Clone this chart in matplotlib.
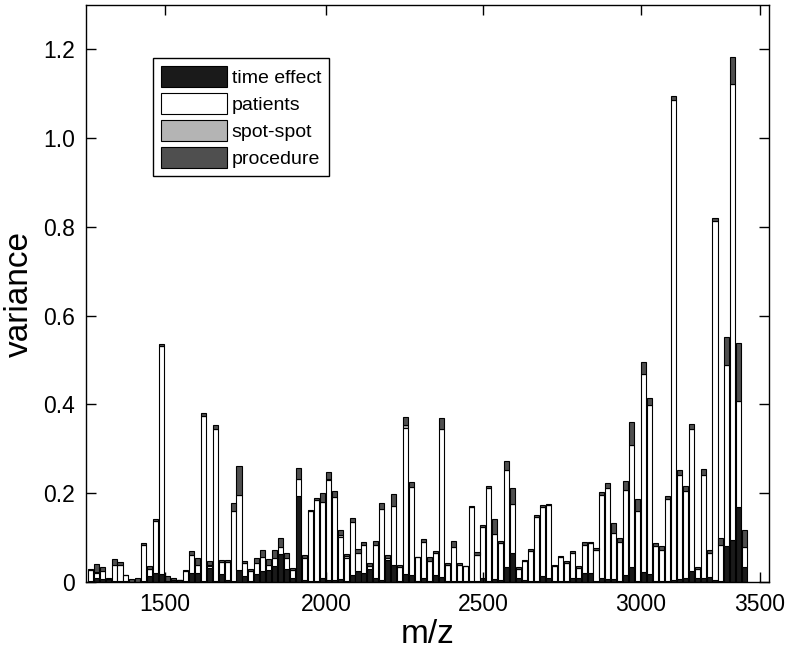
import numpy as np
import matplotlib
matplotlib.use("Agg")
import matplotlib.pyplot as plt

plt.rcParams['font.family'] = ['Liberation Sans', 'DejaVu Sans']

# stacked variance components per m/z peak (bar index order)
time_effect = [0.003, 0.008, 0.006, 0.006, 0.003, 0.003, 0.003, 0.001, 0.001, 0.003,
               0.014, 0.020, 0.018, 0.003, 0.004, 0.005, 0.003, 0.020, 0.020, 0.003,
               0.031, 0.003, 0.019, 0.004, 0.003, 0.027, 0.013, 0.003, 0.017, 0.024,
               0.027, 0.036, 0.064, 0.030, 0.009, 0.194, 0.005, 0.003, 0.003, 0.008,
               0.005, 0.005, 0.006, 0.003, 0.015, 0.024, 0.020, 0.029, 0.009, 0.005,
               0.050, 0.039, 0.003, 0.018, 0.015, 0.003, 0.010, 0.003, 0.015, 0.012,
               0.003, 0.003, 0.002, 0.002, 0.003, 0.003, 0.009, 0.003, 0.007, 0.004,
               0.033, 0.065, 0.008, 0.004, 0.003, 0.003, 0.014, 0.008, 0.002, 0.003,
               0.003, 0.008, 0.009, 0.021, 0.020, 0.003, 0.009, 0.006, 0.006, 0.003,
               0.015, 0.033, 0.003, 0.023, 0.018, 0.003, 0.003, 0.003, 0.005, 0.007,
               0.009, 0.024, 0.009, 0.009, 0.012, 0.005, 0.002, 0.081, 0.095, 0.168,
               0.033]
patients = [0.024, 0.013, 0.018, 0.000, 0.035, 0.036, 0.012, 0.000, 0.000, 0.080,
            0.016, 0.118, 0.514, 0.000, 0.000, 0.000, 0.021, 0.040, 0.018, 0.372,
            0.006, 0.342, 0.027, 0.042, 0.158, 0.170, 0.029, 0.021, 0.025, 0.033,
            0.012, 0.018, 0.015, 0.024, 0.018, 0.039, 0.048, 0.157, 0.181, 0.172,
            0.224, 0.187, 0.095, 0.050, 0.120, 0.042, 0.063, 0.007, 0.075, 0.159,
            0.004, 0.133, 0.030, 0.329, 0.200, 0.053, 0.081, 0.045, 0.050, 0.332,
            0.036, 0.076, 0.037, 0.033, 0.165, 0.057, 0.116, 0.208, 0.102, 0.083,
            0.219, 0.111, 0.021, 0.043, 0.066, 0.143, 0.154, 0.165, 0.035, 0.054,
            0.039, 0.057, 0.023, 0.063, 0.067, 0.069, 0.188, 0.205, 0.105, 0.088,
            0.192, 0.276, 0.156, 0.446, 0.380, 0.079, 0.070, 0.185, 1.081, 0.233,
            0.195, 0.320, 0.021, 0.233, 0.053, 0.809, 0.082, 0.407, 1.026, 0.239,
            0.045]
spot_spot = [0.000, 0.001, 0.000, 0.000, 0.000, 0.000, 0.000, 0.000, 0.000, 0.000,
             0.000, 0.000, 0.000, 0.000, 0.000, 0.000, 0.000, 0.000, 0.000, 0.000,
             0.001, 0.000, 0.000, 0.000, 0.000, 0.000, 0.000, 0.000, 0.000, 0.000,
             0.000, 0.000, 0.000, 0.000, 0.000, 0.000, 0.000, 0.000, 0.000, 0.000,
             0.004, 0.000, 0.005, 0.005, 0.000, 0.000, 0.000, 0.000, 0.000, 0.000,
             0.000, 0.000, 0.000, 0.006, 0.000, 0.000, 0.000, 0.000, 0.000, 0.000,
             0.000, 0.000, 0.000, 0.000, 0.000, 0.000, 0.000, 0.000, 0.000, 0.000,
             0.000, 0.000, 0.000, 0.000, 0.000, 0.000, 0.000, 0.000, 0.000, 0.000,
             0.000, 0.000, 0.000, 0.000, 0.000, 0.000, 0.000, 0.000, 0.000, 0.000,
             0.000, 0.000, 0.000, 0.000, 0.000, 0.000, 0.000, 0.000, 0.000, 0.000,
             0.000, 0.000, 0.000, 0.000, 0.000, 0.000, 0.000, 0.000, 0.000, 0.000,
             0.000]
procedure = [0.002, 0.018, 0.009, 0.002, 0.013, 0.005, 0.000, 0.005, 0.007, 0.004,
             0.006, 0.005, 0.005, 0.010, 0.004, 0.000, 0.004, 0.010, 0.016, 0.005,
             0.009, 0.008, 0.004, 0.004, 0.018, 0.064, 0.005, 0.006, 0.012, 0.015,
             0.012, 0.018, 0.020, 0.011, 0.005, 0.024, 0.007, 0.002, 0.006, 0.020,
             0.015, 0.012, 0.011, 0.005, 0.009, 0.008, 0.007, 0.006, 0.008, 0.013,
             0.008, 0.026, 0.005, 0.018, 0.010, 0.001, 0.005, 0.008, 0.006, 0.025,
             0.003, 0.014, 0.003, 0.001, 0.003, 0.008, 0.003, 0.005, 0.032, 0.006,
             0.020, 0.036, 0.004, 0.003, 0.005, 0.004, 0.006, 0.003, 0.001, 0.002,
             0.006, 0.006, 0.003, 0.006, 0.003, 0.005, 0.006, 0.011, 0.021, 0.009,
             0.020, 0.051, 0.027, 0.026, 0.016, 0.005, 0.008, 0.006, 0.008, 0.012,
             0.012, 0.012, 0.003, 0.012, 0.007, 0.006, 0.016, 0.063, 0.061, 0.132,
             0.039]

series_names = ['time effect', 'patients', 'spot-spot', 'procedure']
x_tick_labels = ['1500', '2000', '2500', '3000', '3500']
x_tick_index = [13.55, 40.6, 67.0, 93.55, 113.5]   # bar-index positions of the m/z ticks
y_ticks = [0, 0.2, 0.4, 0.6, 0.8, 1.0, 1.2]
y_tick_labels = ['0', '0.2', '0.4', '0.6', '0.8', '1.0', '1.2']

colors = ['#1a1a1a', '#ffffff', '#b4b4b4', '#4f4f4f']

fig = plt.figure(figsize=(7.91, 6.49), dpi=100)
ax = fig.add_axes([0.1087, 0.1032, 0.9716 - 0.1087, 0.9923 - 0.1032])

series = [np.array(time_effect), np.array(patients), np.array(spot_spot), np.array(procedure)]
idx = np.arange(1, len(time_effect) + 1)
bottom = np.zeros(len(idx))
for vals, name, col in zip(series, series_names, colors):
    ax.bar(idx, vals, bottom=bottom, width=0.85, color=col, edgecolor='black',
           linewidth=0.8, label=name)
    bottom = bottom + vals

ax.set_xlim(0.28, 115.0)
ax.set_ylim(0, 1.3)
ax.set_xticks(x_tick_index)
ax.set_xticklabels(x_tick_labels)
ax.set_yticks(y_ticks)
ax.set_yticklabels(y_tick_labels)
ax.tick_params(direction='in', length=7, width=1, labelsize=16.5,
               top=True, right=True, pad=8)
for sp in ax.spines.values():
    sp.set_linewidth(1)

ax.set_xlabel('m/z', fontsize=24, labelpad=2)
ax.set_ylabel('variance', fontsize=24, labelpad=6)

leg = ax.legend(loc='upper left', bbox_to_anchor=(0.098, 0.908), borderaxespad=0,
                fontsize=14, handlelength=3.4, handleheight=1.3, handletextpad=0.25,
                labelspacing=0.3, borderpad=0.4, fancybox=False, framealpha=1,
                edgecolor='black')
leg.get_frame().set_linewidth(1)

fig.savefig('out.png', dpi=100)
